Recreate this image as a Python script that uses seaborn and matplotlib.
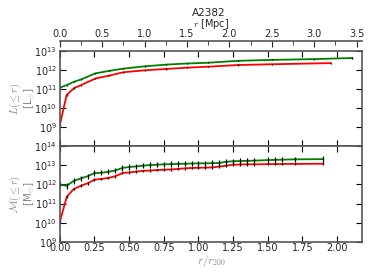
import numpy as np
import pandas as pd
import matplotlib
matplotlib.use('Agg')
import matplotlib.pyplot as plt
import seaborn as sns

# luminosity profiles, radius in Mpc, log10 L
r200 = 1.635  # Mpc
lum_r_green = [0, 0.08, 0.17, 0.25, 0.42, 0.58, 0.75, 1.0, 1.25, 1.5, 1.75, 2.1, 2.5, 3.0, 3.45]
lum_green = [11.07, 11.2, 11.38, 11.5, 11.82, 11.95, 12.07, 12.19, 12.28, 12.34, 12.38, 12.48, 12.53, 12.57, 12.63]
lum_r_red = [0, 0.08, 0.17, 0.25, 0.42, 0.58, 0.75, 1.0, 1.25, 1.5, 1.75, 2.1, 2.5, 3.2]
lum_red = [9.1, 10.68, 11.05, 11.2, 11.55, 11.7, 11.88, 11.98, 12.05, 12.12, 12.17, 12.26, 12.3, 12.36]

# mass profiles, r/r200, log10 M
mass_r = [0.0, 0.05, 0.1, 0.15, 0.2, 0.25, 0.3, 0.35, 0.4, 0.45, 0.5, 0.55, 0.6, 0.65, 0.7,
          0.75, 0.8, 0.85, 0.9, 0.95, 1.0, 1.05, 1.1, 1.15, 1.2, 1.25, 1.3, 1.35, 1.4,
          1.5, 1.55, 1.6, 1.7, 1.9]
mass_green = [11.98, 11.92, 12.18, 12.3, 12.42, 12.58, 12.6, 12.65, 12.72, 12.85, 12.9, 12.93, 12.97, 13.0, 13.02,
              13.04, 13.05, 13.06, 13.07, 13.08, 13.09, 13.09, 13.1, 13.11, 13.17, 13.2, 13.21, 13.22, 13.23,
              13.26, 13.27, 13.28, 13.3, 13.31]
mass_red = [10.05, 11.35, 11.75, 11.92, 12.05, 12.24, 12.28, 12.33, 12.42, 12.58, 12.62, 12.66, 12.7, 12.72, 12.74,
            12.76, 12.77, 12.8, 12.83, 12.85, 12.86, 12.87, 12.88, 12.92, 12.97, 13.02, 13.03, 13.04, 13.04,
            13.05, 13.05, 13.06, 13.06, 13.07]
err_green_dex = 0.14
err_red_dex = 0.07
err_lum_dex = 0.03

sns.set_style('ticks')
plt.rcParams['font.family'] = ['DejaVu Sans']
plt.rcParams['mathtext.fontset'] = 'cm'

fig = plt.figure(figsize=(3.74, 2.80), dpi=100)
ax1 = fig.add_axes([0.160, 0.479, 0.808, 0.339])
ax2 = fig.add_axes([0.160, 0.136, 0.808, 0.343], sharex=ax1)


def profile(ax, x, logy, color, edex):
    y = 10 ** np.array(logy)
    df = pd.DataFrame({'x': x, 'y': y})
    sns.lineplot(data=df, x='x', y='y', ax=ax, color=color, lw=1.3)
    yerr = [y - y / 10 ** edex, y * 10 ** edex - y]
    ax.errorbar(x, y, yerr=yerr, fmt='none', ecolor='k', elinewidth=0.9, capsize=0)


profile(ax1, np.array(lum_r_red) / r200, lum_red, 'red', err_lum_dex)
profile(ax1, np.array(lum_r_green) / r200, lum_green, 'green', err_lum_dex)
profile(ax2, mass_r, mass_red, 'red', err_red_dex)
profile(ax2, mass_r, mass_green, 'green', err_green_dex)

for ax in (ax1, ax2):
    ax.set_yscale('log')
    ax.set_xlim(0, 2.18)
    ax.tick_params(which='both', direction='in', top=True, right=True, labelsize=7, color='k')
    ax.tick_params(which='major', length=4)
    ax.tick_params(which='minor', length=2)
    ax.tick_params(axis='y', pad=2)
    for s in ax.spines.values():
        s.set_color('#555555')
        s.set_linewidth(1.2)
    ax.set_xlabel('')

ax1.set_ylim(1e8, 1e13)
ax1.set_yticks([1e9, 1e10, 1e11, 1e12, 1e13])
ax1.tick_params(axis='x', labelbottom=False)
ax1.set_ylabel('$L(\\leq r)$\n[L$_{\\odot}$]', color='#888888', fontsize=7.5, linespacing=0.95)
ax1.yaxis.set_label_coords(-0.077, 0.5)

ax2.set_ylim(1e9, 1e14)
ax2.set_yticks([1e9, 1e10, 1e11, 1e12, 1e13, 1e14])
ax2.set_xticks([0, 0.25, 0.5, 0.75, 1.0, 1.25, 1.5, 1.75, 2.0])
ax2.set_xticklabels(['0.00', '0.25', '0.50', '0.75', '1.00', '1.25', '1.50', '1.75', '2.00'])
ax2.tick_params(axis='x', pad=0.5)
ax2.set_ylabel('$\\mathcal{M}(\\leq r)$\n[M$_{\\odot}$]', color='#888888', fontsize=7.5, linespacing=0.95)
ax2.yaxis.set_label_coords(-0.077, 0.5)
ax2.set_xlabel('$r/r_{200}$', color='#888888', fontsize=8, labelpad=0)

# top axis in Mpc, pushed a little above the panel
sec = ax1.secondary_xaxis(1.1, functions=(lambda v: v * r200, lambda v: v / r200))
sec.set_xticks([0, 0.5, 1.0, 1.5, 2.0, 2.5, 3.0, 3.5])
sec.set_xticks([0.25, 0.75, 1.25, 1.75, 2.25, 2.75, 3.25], minor=True)
sec.set_xticklabels(['0.0', '0.5', '1.0', '1.5', '2.0', '2.5', '3.0', '3.5'])
sec.tick_params(which='both', direction='in', labelsize=7, pad=2)
sec.tick_params(which='major', length=4)
sec.tick_params(which='minor', length=3)
sec.spines['top'].set_color('#555555')
sec.spines['top'].set_linewidth(1.2)
sec.set_xlabel('$r$ [Mpc]', fontsize=7, labelpad=1)

fig.text(0.557, 0.953, 'A2382', ha='center', va='center', fontsize=7.5)

fig.savefig('out.png', dpi=100)
